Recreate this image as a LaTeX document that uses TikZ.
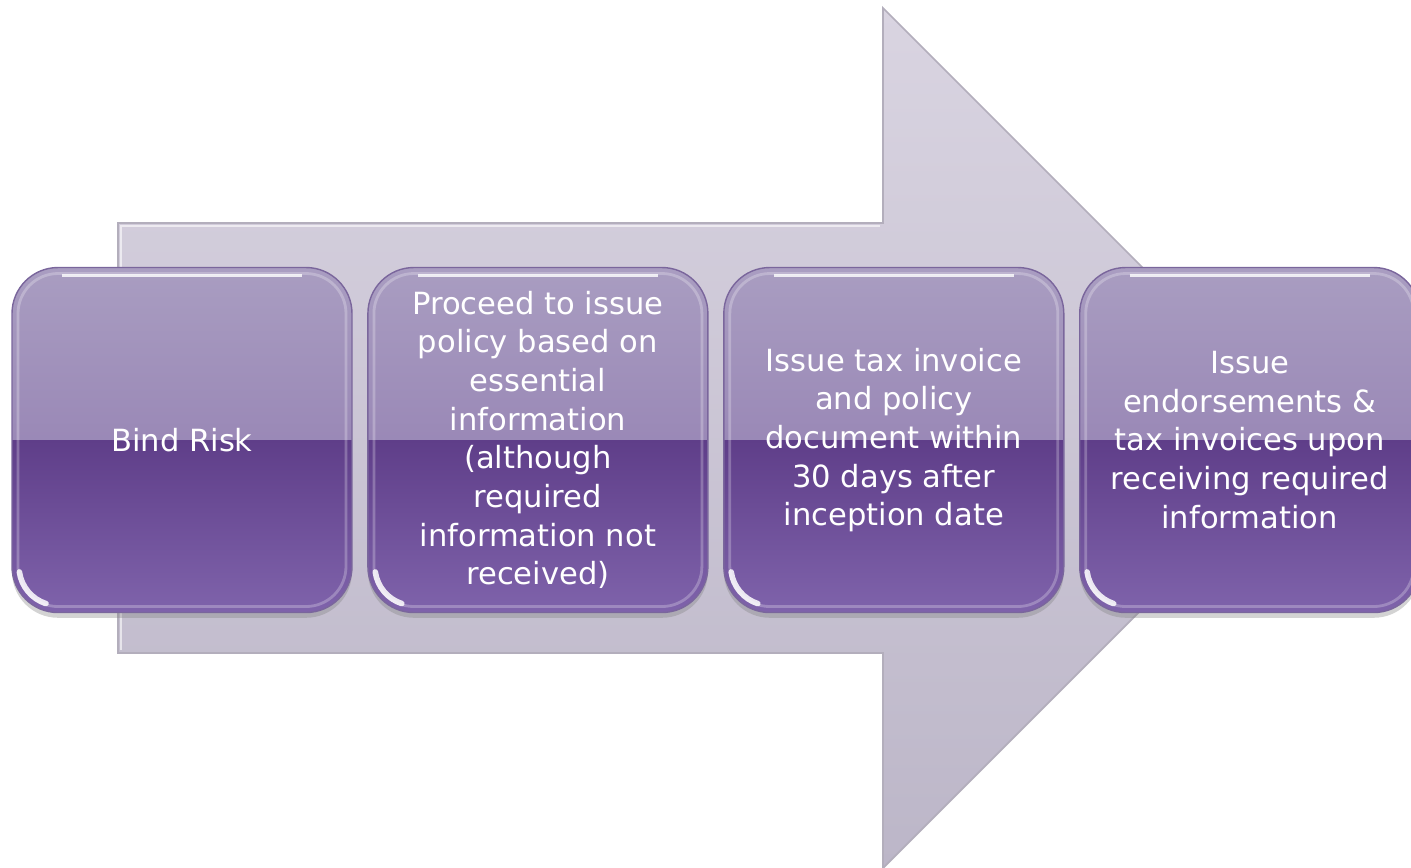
\documentclass[tikz,border=0pt]{standalone}
\usepackage{fontspec}
\setmainfont{DejaVu Sans}
\usetikzlibrary{positioning,shadows}

\definecolor{arrowtop}{HTML}{D9D4E1}
\definecolor{arrowbot}{HTML}{BCB6C8}
\definecolor{arrowline}{HTML}{B3AEBC}
\definecolor{glosstop}{HTML}{A99DC1}
\definecolor{glossmid}{HTML}{8B74AC}
\definecolor{deepmid}{HTML}{5F3E89}
\definecolor{deepbot}{HTML}{7F63AB}
\definecolor{stepedge}{HTML}{7A669C}

\begin{document}
\begin{tikzpicture}[
    x=0.1mm, y=-0.1mm,
    node distance=1.45mm,
    stepbox/.style={rounded corners=4.6mm, minimum width=34mm, minimum height=34.5mm,
      inner sep=0pt, align=center, text=white, font=\fontsize{8.7}{11}\selectfont,
      draw=stepedge, line width=0.4pt,
      drop shadow={shadow xshift=0pt, shadow yshift=-1.5pt, opacity=0.35},
      path picture={
        % glossy upper half, deep lower half
        \shade[sharp corners, top color=glosstop, bottom color=glossmid]
          (path picture bounding box.north west) rectangle (path picture bounding box.east);
        \shade[sharp corners, top color=deepmid, bottom color=deepbot]
          (path picture bounding box.west) rectangle (path picture bounding box.south east);
        \draw[white, opacity=0.25, line width=0.8pt, rounded corners=4mm]
          ([shift={(0.6mm,-0.6mm)}]path picture bounding box.north west)
          rectangle ([shift={(-0.6mm,0.6mm)}]path picture bounding box.south east);
        \draw[white, opacity=0.8, line width=1pt, sharp corners]
          ([shift={(5mm,-0.8mm)}]path picture bounding box.north west)
          -- ([shift={(-5mm,-0.8mm)}]path picture bounding box.north east);
        % shine in the lower left corner
        \draw[white, opacity=0.85, line width=1.6pt, line cap=round]
          ([shift={(4.6mm,4.6mm)}]path picture bounding box.south west) ++(188:3.9mm)
          arc[start angle=188, end angle=252, radius=3.9mm];
      }},
    arrowbody/.style={draw=arrowline, line width=0.5pt, top color=arrowtop, bottom color=arrowbot}
  ]
  \useasboundingbox (0,0) rectangle (1411,867);

  % big background arrow
  \path[arrowbody] (118,223) -- (883,223) -- (883,8) -- (1313,438) -- (883,868)
    -- (883,653) -- (118,653) -- cycle;
  \draw[white, opacity=0.6, line width=0.8pt] (121,650) -- (121,226) -- (880,226);

  \node[stepbox] (bind) at (182,440) {Bind Risk};
  \node[stepbox, right=of bind] (issuepol) {Proceed to issue\\policy based on\\essential\\information\\(although\\required\\information not\\received)};
  \node[stepbox, right=of issuepol] (taxinv) {Issue tax invoice\\and policy\\document within\\30 days after\\inception date};
  \node[stepbox, right=of taxinv] (endorse) {Issue\\endorsements \&\\tax invoices upon\\receiving required\\information};
\end{tikzpicture}
\end{document}
